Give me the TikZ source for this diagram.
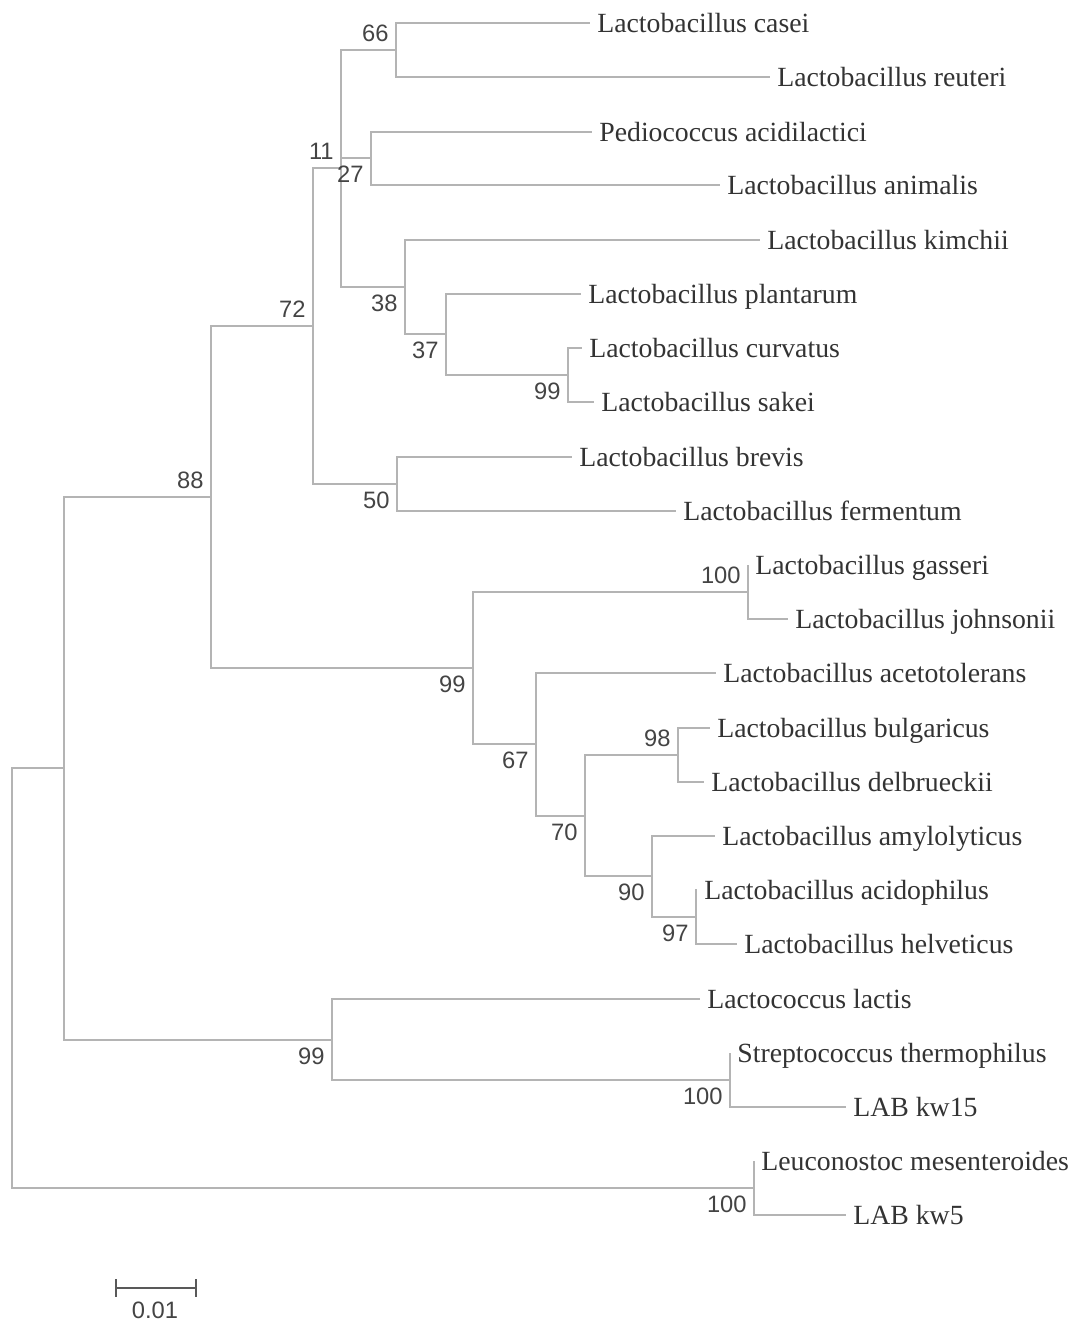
\documentclass[tikz,border=0pt]{standalone}
\usepackage{fontspec}
\setmainfont{Liberation Serif}
\newfontfamily\bootfont{Liberation Sans}
\usetikzlibrary{arrows.meta}
\definecolor{treegray}{HTML}{B4B4B4}
\definecolor{labgray}{HTML}{333333}
\definecolor{bootgray}{HTML}{444444}
\begin{document}
\begin{tikzpicture}[x=0.02cm,y=-0.02cm,
  branch/.style={draw=treegray,line width=0.75pt},
  taxon/.style={anchor=west,inner xsep=4pt,inner ysep=0pt,text height=12pt,text depth=1.4pt,
    font=\fontsize{15.8}{18}\selectfont,text=labgray},
  boot/.style={inner xsep=4pt,inner ysep=4.5pt,font=\bootfont\fontsize{13.5}{15}\selectfont,text=bootgray},
  scalebar/.style={draw=black!65,line width=1.4pt,{Bar[width=10pt]}-{Bar[width=10pt]}}]
  \useasboundingbox (0,0) rectangle (1075,1323);

  % internal nodes
  \coordinate (root) at (12,978);
  \coordinate (n64) at (64,768);
  \coordinate (n88) at (211,497);
  \coordinate (n72) at (313,326);
  \coordinate (n11) at (341,168);
  \coordinate (n66) at (396,50);
  \coordinate (n27) at (371,158);
  \coordinate (n38) at (405,287);
  \coordinate (n37) at (446,334);
  \coordinate (n99a) at (568,375);
  \coordinate (n50) at (397,484);
  \coordinate (n99b) at (473,668);
  \coordinate (n100a) at (748,592);
  \coordinate (n67) at (536,744);
  \coordinate (n70) at (585,816);
  \coordinate (n98) at (678,755);
  \coordinate (n90) at (652,876);
  \coordinate (n97) at (696,917);
  \coordinate (n99c) at (332,1040);
  \coordinate (n100b) at (730,1080);
  \coordinate (n100c) at (754,1188);

  % taxa
  \node[taxon] (casei) at (590,23) {Lactobacillus casei};
  \node[taxon] (reuteri) at (770,77) {Lactobacillus reuteri};
  \node[taxon] (pedio) at (592,132) {Pediococcus acidilactici};
  \node[taxon] (animalis) at (720,185) {Lactobacillus animalis};
  \node[taxon] (kimchii) at (760,240) {Lactobacillus kimchii};
  \node[taxon] (plantarum) at (581,294) {Lactobacillus plantarum};
  \node[taxon] (curvatus) at (582,348) {Lactobacillus curvatus};
  \node[taxon] (sakei) at (594,402) {Lactobacillus sakei};
  \node[taxon] (brevis) at (572,457) {Lactobacillus brevis};
  \node[taxon] (fermentum) at (676,511) {Lactobacillus fermentum};
  \node[taxon] (gasseri) at (748,565) {Lactobacillus gasseri};
  \node[taxon] (johnsonii) at (788,619) {Lactobacillus johnsonii};
  \node[taxon] (aceto) at (716,673) {Lactobacillus acetotolerans};
  \node[taxon] (bulgaricus) at (710,728) {Lactobacillus bulgaricus};
  \node[taxon] (delbrueckii) at (704,782) {Lactobacillus delbrueckii};
  \node[taxon] (amylo) at (715,836) {Lactobacillus amylolyticus};
  \node[taxon] (acido) at (697,890) {Lactobacillus acidophilus};
  \node[taxon] (helveticus) at (737,944) {Lactobacillus helveticus};
  \node[taxon] (lactis) at (700,999) {Lactococcus lactis};
  \node[taxon] (strepto) at (730,1053) {Streptococcus thermophilus};
  \node[taxon] (kw15) at (846,1107) {LAB kw15};
  \node[taxon] (leuco) at (754,1161) {Leuconostoc mesenteroides};
  \node[taxon] (kw5) at (846,1215) {LAB kw5};

  % branches
  \draw[branch] (root) |- (n64);
  \draw[branch] (root) |- (n100c);
  \draw[branch] (n64) |- (n88);
  \draw[branch] (n64) |- (n99c);
  \draw[branch] (n88) |- (n72);
  \draw[branch] (n88) |- (n99b);
  \draw[branch] (n72) |- (n11);
  \draw[branch] (n72) |- (n50);
  \draw[branch] (n11) |- (n66);
  \draw[branch] (n11) |- (n27);
  \draw[branch] (n11) |- (n38);
  \draw[branch] (n66) |- (casei);
  \draw[branch] (n66) |- (reuteri);
  \draw[branch] (n27) |- (pedio);
  \draw[branch] (n27) |- (animalis);
  \draw[branch] (n38) |- (kimchii);
  \draw[branch] (n38) |- (n37);
  \draw[branch] (n37) |- (plantarum);
  \draw[branch] (n37) |- (n99a);
  \draw[branch] (n99a) |- (curvatus);
  \draw[branch] (n99a) |- (sakei);
  \draw[branch] (n50) |- (brevis);
  \draw[branch] (n50) |- (fermentum);
  \draw[branch] (n99b) |- (n100a);
  \draw[branch] (n99b) |- (n67);
  \draw[branch] (n100a) |- (gasseri);
  \draw[branch] (n100a) |- (johnsonii);
  \draw[branch] (n67) |- (aceto);
  \draw[branch] (n67) |- (n70);
  \draw[branch] (n70) |- (n98);
  \draw[branch] (n70) |- (n90);
  \draw[branch] (n98) |- (bulgaricus);
  \draw[branch] (n98) |- (delbrueckii);
  \draw[branch] (n90) |- (amylo);
  \draw[branch] (n90) |- (n97);
  \draw[branch] (n97) |- (acido);
  \draw[branch] (n97) |- (helveticus);
  \draw[branch] (n99c) |- (lactis);
  \draw[branch] (n99c) |- (n100b);
  \draw[branch] (n100b) |- (strepto);
  \draw[branch] (n100b) |- (kw15);
  \draw[branch] (n100c) |- (leuco);
  \draw[branch] (n100c) |- (kw5);

  % bootstrap values
  \node[boot,above left] (b88) at (n88) {88};
  \node[boot,above left] (b72) at (n72) {72};
  \node[boot,above left] (b11) at (n11) {11};
  \node[boot,above left] (b66) at (n66) {66};
  \node[boot,below left] (b27) at (n27) {27};
  \node[boot,below left] (b38) at (n38) {38};
  \node[boot,below left] (b37) at (n37) {37};
  \node[boot,below left] (b99a) at (n99a) {99};
  \node[boot,below left] (b50) at (n50) {50};
  \node[boot,below left] (b99b) at (n99b) {99};
  \node[boot,above left] (b100a) at (n100a) {100};
  \node[boot,below left] (b67) at (n67) {67};
  \node[boot,below left] (b70) at (n70) {70};
  \node[boot,above left] (b98) at (n98) {98};
  \node[boot,below left] (b90) at (n90) {90};
  \node[boot,below left] (b97) at (n97) {97};
  \node[boot,below left] (b99c) at (n99c) {99};
  \node[boot,below left] (b100b) at (n100b) {100};
  \node[boot,below left] (b100c) at (n100c) {100};

  % scale bar
  \coordinate (bar0) at (115,1288);
  \coordinate (bar1) at (197,1288);
  \draw[scalebar] (bar0) -- (bar1);
  \node[boot,inner sep=0pt] (barlab) at (155,1310) {0.01};
\end{tikzpicture}
\end{document}
